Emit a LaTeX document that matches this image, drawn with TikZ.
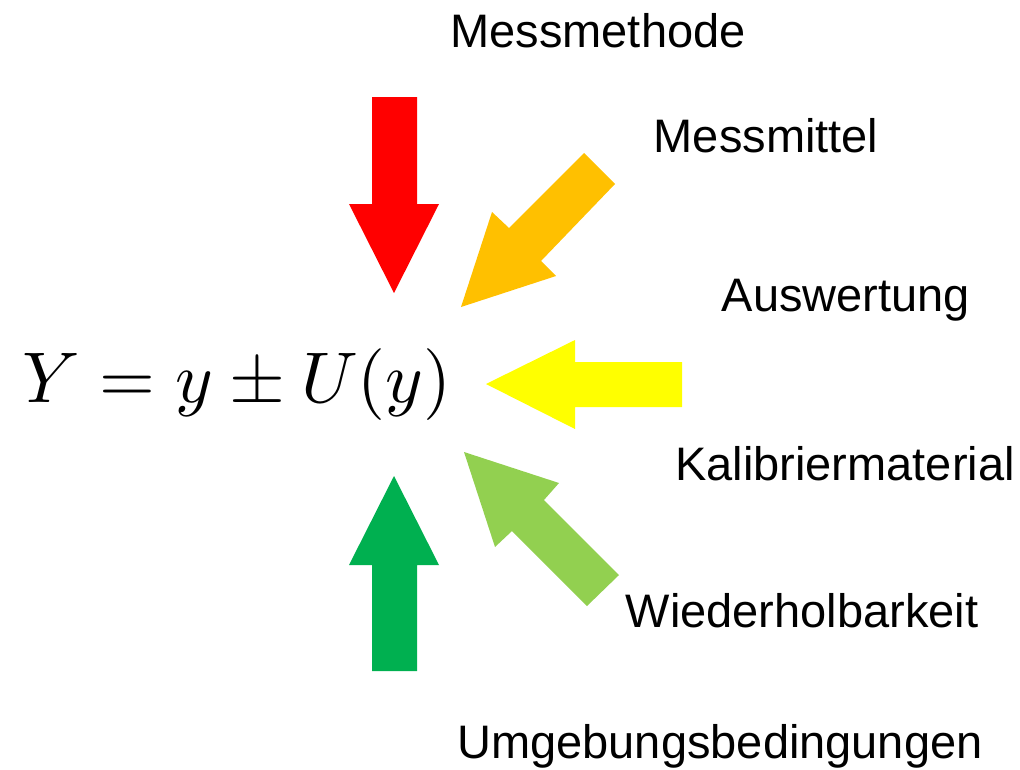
\documentclass[tikz,border=0pt]{standalone}
\usepackage[no-math]{fontspec}
\newfontfamily\lab{Liberation Sans}
\definecolor{cred}{HTML}{FF0000}
\definecolor{corange}{HTML}{FFC000}
\definecolor{cyellow}{HTML}{FFFF00}
\definecolor{clgreen}{HTML}{92D050}
\definecolor{cgreen}{HTML}{00B050}
\tikzset{
  lbl/.style={anchor=base, inner sep=0pt, font=\lab\fontsize{47}{52}\selectfont},
  formulastyle/.style={anchor=base west, inner sep=0pt}
}
\begin{document}
\begin{tikzpicture}[x=1pt,y=-1pt]
\useasboundingbox[fill=white] (0,0) rectangle (1020,769);
% block arrows
\fill[cred]    (372,97) -- (417,97) -- (417,204) -- (439,204) -- (394,293) -- (349,204) -- (372,204) -- cycle;
\fill[corange] (584,153) -- (615,184) -- (541,261) -- (556,276) -- (461,307) -- (492,212) -- (509,228) -- cycle;
\fill[cyellow] (682,362) -- (682,407) -- (575,407) -- (575,429) -- (486,384) -- (575,340) -- (575,362) -- cycle;
\fill[clgreen] (619,575) -- (587,606) -- (512,531) -- (495,547) -- (464,452) -- (559,483) -- (544,500) -- cycle;
\fill[cgreen]  (372,671) -- (417,671) -- (417,565) -- (439,565) -- (394,476) -- (349,565) -- (372,565) -- cycle;
% formula
\node[formulastyle] (formula) at (22,402) {\scalebox{7.18}{$Y = y \pm U(y)$}};
% labels
\node[lbl] (m1) at (598,47) {Messmethode};
\node[lbl] (m2) at (766,152) {Messmittel};
\node[lbl] (m3) at (846,311) {Auswertung};
\node[lbl] (m4) at (845,480) {Kalibriermaterial};
\node[lbl] (m5) at (802,627) {Wiederholbarkeit};
\node[lbl] (m6) at (720,758) {Umgebungsbedingungen};
\end{tikzpicture}
\end{document}
